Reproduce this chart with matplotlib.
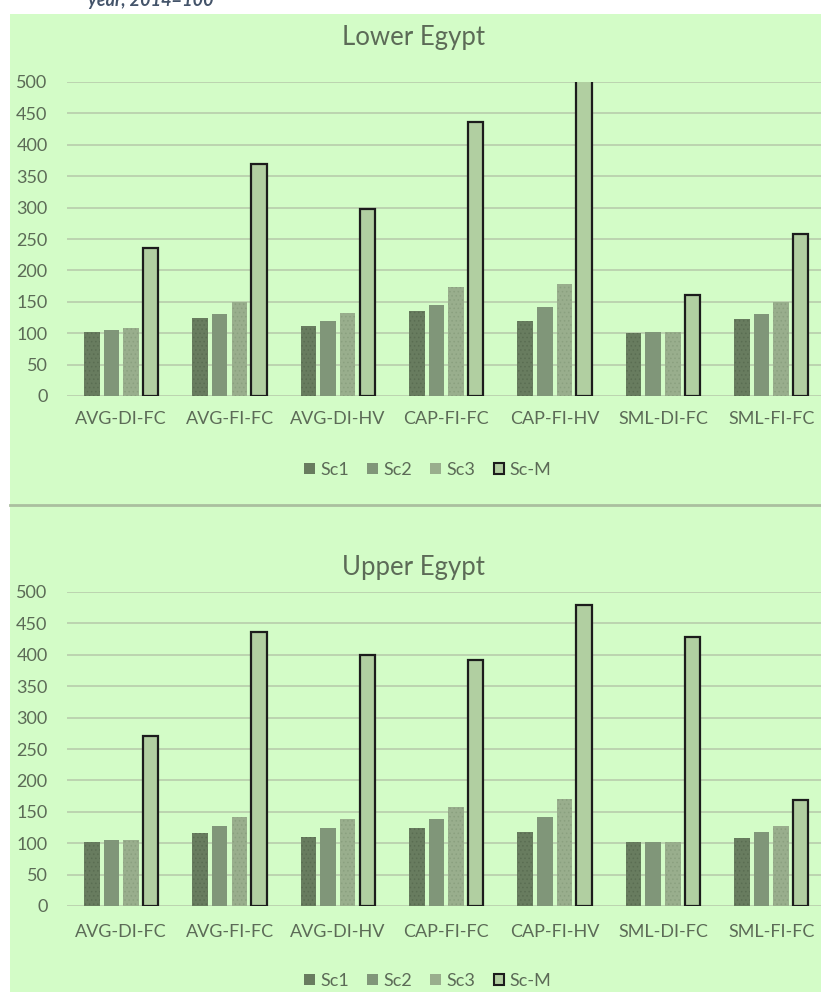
import matplotlib.pyplot as plt
from matplotlib.patches import Rectangle, Patch
from matplotlib.lines import Line2D
import numpy as np

# Data
categories = ["AVG-DI-FC", "AVG-FI-FC", "AVG-DI-HV", "CAP-FI-FC", "CAP-FI-HV", "SML-DI-FC", "SML-FI-FC"]
series_names = ["Sc1", "Sc2", "Sc3", "Sc-M"]

lower_sc1 = [102, 125, 112, 136, 120, 100, 123]
lower_sc2 = [105, 131, 120, 145, 142, 102, 131]
lower_sc3 = [109, 149, 132, 173, 179, 102, 149]
lower_scm = [235, 370, 297, 436, 510, 161, 258]

upper_sc1 = [102, 116, 110, 125, 118, 102, 108]
upper_sc2 = [105, 127, 125, 138, 141, 102, 118]
upper_sc3 = [105, 141, 138, 158, 170, 102, 127]
upper_scm = [271, 437, 400, 392, 479, 428, 169]

W, H = 821, 992
BG = "#d3fcc7"
TXT = "#5c6b57"
GRID = "#b8cdac"
colors = ["#687c5f", "#809679", "#99ae8d", "#b1cfa1"]
hatch_cols = ["#5a6d52", None, "#8aa07f", None]

plt.rcParams["font.family"] = ["Lato", "DejaVu Sans"]
plt.rcParams["hatch.linewidth"] = 0.6

fig = plt.figure(figsize=(W / 100, H / 100), dpi=100)
fig.patch.set_facecolor("white")

# green chart panel
fig.patches.append(Rectangle((10 / W, 0), 1 - 10 / W, 1 - 14 / H, transform=fig.transFigure,
                             facecolor=BG, edgecolor="none", zorder=-5))
# divider between the two charts
fig.add_artist(Line2D([10 / W, 1], [1 - 505 / H, 1 - 505 / H], transform=fig.transFigure,
                      color="#aabf9f", lw=2, zorder=-4))

# caption running off the top edge
fig.text(88 / W, 1 - 6 / H, "year, 2014=100", color="#44546a", fontsize=13,
         fontweight="bold", fontstyle="italic", va="baseline", ha="left")


def px_axes(top, bottom):
    left, right = 67, 825.5
    return fig.add_axes([left / W, 1 - bottom / H, (right - left) / W, (bottom - top) / H])


def draw_panel(ax, data, title, title_y, label_y, legend_y):
    x = np.arange(len(categories))
    step = 0.181
    width = 0.143
    for i, vals in enumerate(data):
        off = (i - 1.5) * step
        if i == 3:
            ax.bar(x + off, vals, width, color=colors[i], edgecolor="#1c1c1c", linewidth=1.6, zorder=3)
        elif hatch_cols[i] is not None:
            ax.bar(x + off, vals, width, color=colors[i], edgecolor=hatch_cols[i], linewidth=0,
                   hatch="....", zorder=3)
        else:
            ax.bar(x + off, vals, width, color=colors[i], linewidth=0, zorder=3)

    ax.set_xlim(-0.5, len(categories) - 0.5)
    ax.set_ylim(0, 500)
    ax.set_yticks(np.arange(0, 501, 50))
    ax.set_facecolor("none")
    for s in ax.spines.values():
        s.set_visible(False)
    ax.yaxis.grid(True, color=GRID, lw=1.2, zorder=0)
    ax.set_axisbelow(True)
    ax.tick_params(axis="both", length=0, labelsize=13, labelcolor=TXT)
    ax.tick_params(axis="y", pad=14)
    ax.set_xticks([])

    # category labels placed in pixel rows
    for xi, c in zip(x, categories):
        xf = (67 + (xi + 0.5) * 108.35) / W
        fig.text(xf, 1 - label_y / H, c, ha="center", va="center", fontsize=13, color=TXT)

    fig.text(413 / W, 1 - title_y / H, title, ha="center", va="center", fontsize=18.5, color=TXT)

    handles = []
    for i, n in enumerate(series_names):
        if i == 3:
            handles.append(Patch(facecolor=colors[i], edgecolor="#1c1c1c", linewidth=1.5, label=n))
        else:
            handles.append(Patch(facecolor=colors[i], edgecolor="none", label=n))
    fig.legend(handles=handles, loc="center", bbox_to_anchor=(428 / W, 1 - legend_y / H), ncol=4,
               frameon=False, fontsize=13, handlelength=0.6, handleheight=0.6, handletextpad=0.3,
               columnspacing=1.0, labelcolor=TXT)


ax1 = px_axes(82, 396)
draw_panel(ax1, [lower_sc1, lower_sc2, lower_sc3, lower_scm], "Lower Egypt", 37, 419, 470)

ax2 = px_axes(592, 906)
draw_panel(ax2, [upper_sc1, upper_sc2, upper_sc3, upper_scm], "Upper Egypt", 568, 932, 981)

fig.savefig("out.png", dpi=100)
